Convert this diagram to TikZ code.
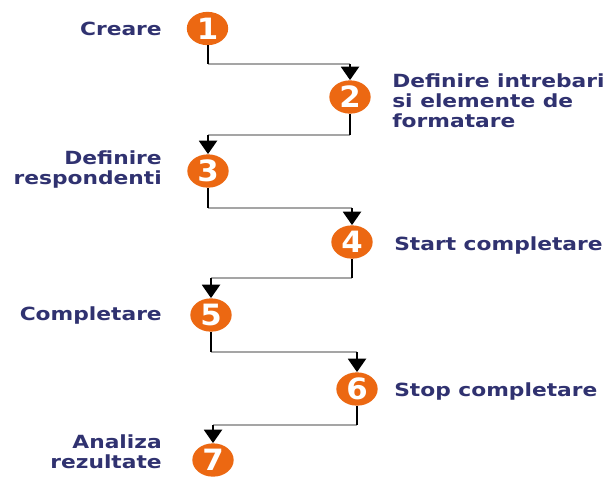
\documentclass[tikz,border=0pt]{standalone}
\usepackage{fontspec}
\newfontfamily\labfont{DejaVu Sans Bold}[FakeStretch=1.2]
\newfontfamily\numfont{DejaVu Sans Bold}[FakeStretch=1.05]
\usetikzlibrary{shapes.geometric,arrows.meta}
\definecolor{navy}{RGB}{48,50,112}
\definecolor{orng}{RGB}{236,104,18}
\definecolor{lgray}{RGB}{165,165,165}
\begin{document}
\begin{tikzpicture}[x=0.75pt,y=-0.75pt,
  stepnum/.style={ellipse, fill=orng, minimum width=31pt, minimum height=25pt, inner sep=0pt, text=white, font=\numfont\fontsize{22}{22}\selectfont},
  lbl/.style={text=navy, inner sep=0pt, font=\labfont\fontsize{13.6}{15}\selectfont},
  blk/.style={draw=black, line width=1.5pt},
  gry/.style={draw=lgray, line width=1.5pt},
  arr/.style={-{Triangle[width=13.5pt,length=10pt]}}]
\useasboundingbox (0,0) rectangle (609,476);
\fill[white] (0,0) rectangle (609,476);
% step circles
\node[stepnum] (n1) at (207.5,28.5) {1};
\node[stepnum] (n2) at (350,97) {2};
\node[stepnum] (n3) at (208,171) {3};
\node[stepnum] (n4) at (352,242) {4};
\node[stepnum] (n5) at (211,315) {5};
\node[stepnum] (n6) at (357,389) {6};
\node[stepnum] (n7) at (213,460) {7};
% labels
\node[lbl, anchor=base east] (t1) at (162,35) {Creare};
\node[lbl, anchor=north west, align=left] (t2) at (392,73) {Definire intrebari\\si elemente de\\formatare};
\node[lbl, anchor=north east, align=right] (t3) at (162,150) {Definire\\respondenti};
\node[lbl, anchor=base west] (t4) at (394,250) {Start completare};
\node[lbl, anchor=base east] (t5) at (162,320) {Completare};
\node[lbl, anchor=base west] (t6) at (394,396) {Stop completare};
\node[lbl, anchor=north east, align=right] (t7) at (162,434) {Analiza\\rezultate};
% connector coordinates
\coordinate (a1) at (n1 |- 0,64);  \coordinate (b1) at (n2 |- 0,64);
\coordinate (a2) at (n2 |- 0,135); \coordinate (b2) at (n3 |- 0,135);
\coordinate (a3) at (n3 |- 0,208); \coordinate (b3) at (n4 |- 0,208);
\coordinate (a4) at (n4 |- 0,278); \coordinate (b4) at (n5 |- 0,278);
\coordinate (a5) at (n5 |- 0,352); \coordinate (b5) at (n6 |- 0,352);
\coordinate (a6) at (n6 |- 0,425); \coordinate (b6) at (n7 |- 0,425);
% connectors
\foreach \i/\j in {1/2,2/3,3/4,4/5,5/6,6/7}{
  \draw[gry] (a\i) -- (b\i);
  \draw[blk] (n\i) -- (a\i);
  \draw[blk,arr] (b\i) -- (n\j);
}
\end{tikzpicture}
\end{document}
